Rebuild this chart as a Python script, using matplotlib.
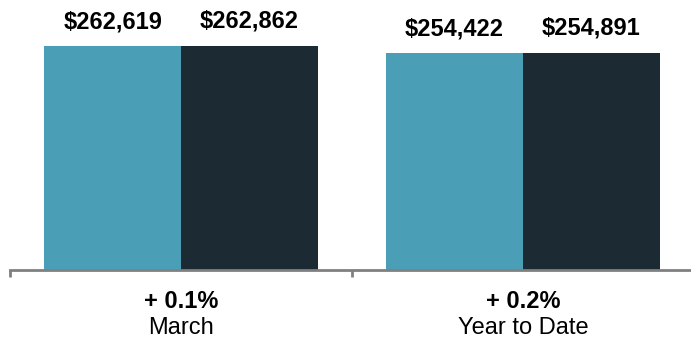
import numpy as np
import matplotlib.pyplot as plt

# Data
categories = ['March', 'Year to Date']
changes = ['+ 0.1%', '+ 0.2%']
prior_values = [262619, 254422]
current_values = [262862, 254891]

teal = '#4a9eb5'
dark = '#1c2b33'
axis_gray = '#808080'

plt.rcParams['font.family'] = ['Liberation Sans', 'DejaVu Sans']

fig = plt.figure(figsize=(6.91, 3.39), dpi=100)
ax = fig.add_axes([10 / 691, 69 / 339, 684 / 691, 270 / 339])

x = np.arange(len(categories))
bar_width = 0.4
bars1 = ax.bar(x - bar_width / 2, prior_values, width=bar_width, color=teal)
bars2 = ax.bar(x + bar_width / 2, current_values, width=bar_width, color=dark)

# Value labels above the bars
for bars in (bars1, bars2):
    for b in bars:
        ax.annotate('${:,}'.format(int(b.get_height())),
                    (b.get_x() + b.get_width() / 2, b.get_height()),
                    xytext=(0, 9.5), textcoords='offset points',
                    ha='center', va='bottom', fontsize=17, fontweight='bold')

ax.set_xlim(-0.5, 1.5)
ax.set_ylim(0, 317000)

# Category labels below the axis
trans = ax.get_xaxis_transform()
for i in range(len(categories)):
    ax.text(x[i], -0.115, changes[i], transform=trans, ha='center', va='center',
            fontsize=17, fontweight='bold')
    ax.text(x[i], -0.213, categories[i], transform=trans, ha='center', va='center',
            fontsize=17)

for side in ['top', 'right', 'left']:
    ax.spines[side].set_visible(False)
ax.spines['bottom'].set_color(axis_gray)
ax.spines['bottom'].set_linewidth(2)
ax.set_yticks([])
ax.set_xticks([-0.5, 0.5, 1.5])
ax.set_xticklabels([])
ax.tick_params(axis='x', direction='out', length=5, width=2, color=axis_gray)

fig.savefig('out.png', dpi=100)
